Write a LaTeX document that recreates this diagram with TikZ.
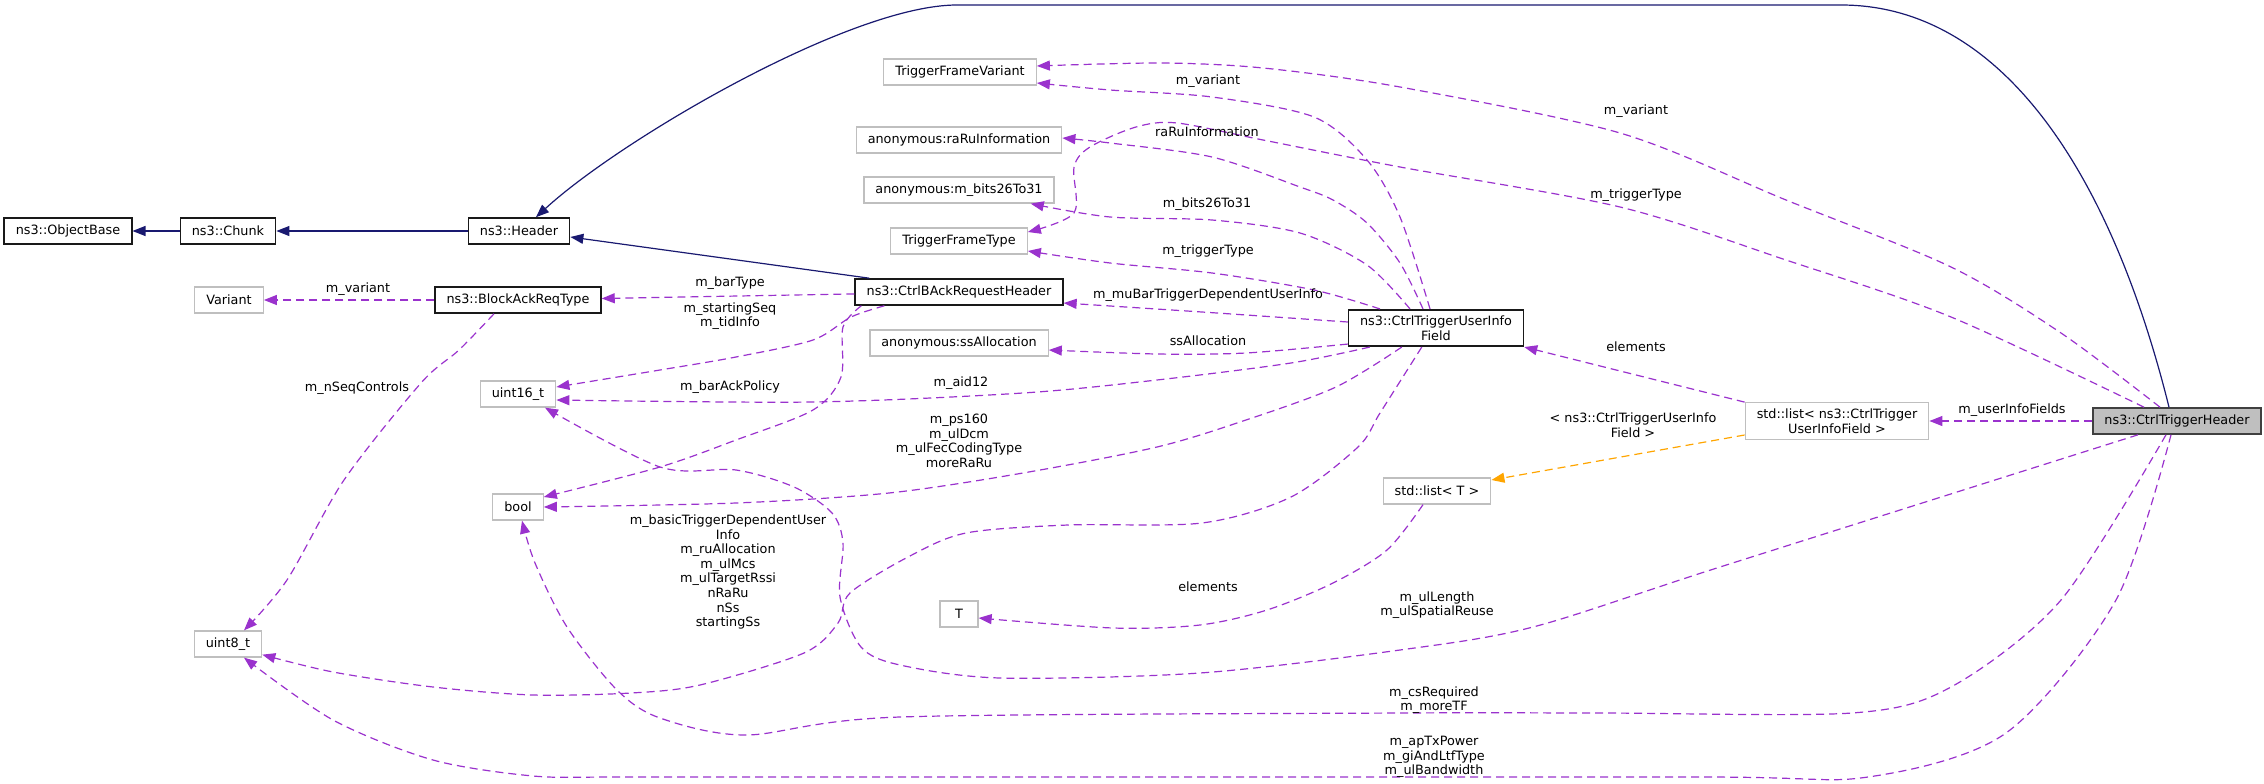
\documentclass[tikz,border=0pt]{standalone}
\usepackage{fontspec}
\setmainfont{DejaVu Sans}
\usetikzlibrary{arrows.meta}
\definecolor{edgepurple}{HTML}{9A32CD}
\definecolor{edgenavy}{HTML}{191970}
\definecolor{edgeorange}{HTML}{FFA500}
\definecolor{boxgray}{HTML}{BFBFBF}
\tikzset{
  box/.style={draw, line width=1.3pt, inner xsep=11.5pt, inner ysep=6pt, minimum height=26pt, align=center, font=\fontsize{12.8}{14.6}\selectfont},
  cls/.style={box, draw=black!90, line width=1.6pt},
  ext/.style={box, draw=boxgray},
  focus/.style={box, draw=black!75, line width=1.6pt, fill=boxgray},
  lbl/.style={align=center, inner sep=0pt, font=\fontsize{12.8}{14.6}\selectfont},
  usage/.style={draw=edgepurple, line width=1.2pt, dash pattern=on 8pt off 5pt, -{Triangle[length=13pt,width=10pt]}},
  inh/.style={draw=edgenavy, line width=1.2pt, -{Triangle[length=13pt,width=10pt]}},
  tpl/.style={draw=edgeorange, line width=1.2pt, dash pattern=on 8pt off 5pt, -{Triangle[length=13pt,width=10pt]}}
}

\begin{document}
\begin{tikzpicture}[x=1pt,y=-1pt]

	\useasboundingbox (0,0) rectangle (2264,784);

	% classes
	\node[cls] (obj) at (68,231) {ns3::ObjectBase};
	\node[cls] (chunk) at (228,231) {ns3::Chunk};
	\node[cls] (hdr) at (519,231) {ns3::Header};
	\node[ext] (variant) at (229,300) {Variant};
	\node[cls] (barT) at (518,300) {ns3::BlockAckReqType};
	\node[cls] (bar) at (959,292) {ns3::CtrlBAckRequestHeader};
	\node[ext] (tfv) at (960,72) {TriggerFrameVariant};
	\node[ext] (rari) at (959,140) {anonymous:raRuInformation};
	\node[ext] (bits) at (959,190) {anonymous:m\_bits26To31};
	\node[ext] (tft) at (959,241) {TriggerFrameType};
	\node[ext] (ssa) at (959,343) {anonymous:ssAllocation};
	\node[ext] (u16) at (518,394) {uint16\_t};
	\node[ext] (bool) at (518,507) {bool};
	\node[ext] (u8) at (228,644) {uint8\_t};
	\node[ext, minimum width=38pt] (T) at (959,614) {T};
	\node[ext] (listT) at (1437,491) {std::list< T >};
	\node[cls] (uif) at (1436,328) {ns3::CtrlTriggerUserInfo\\Field};
	\node[ext] (listU) at (1837,421) {std::list< ns3::CtrlTrigger\\UserInfoField >};
	\node[focus] (cth) at (2177,421) {ns3::CtrlTriggerHeader};

	% inheritance
	\draw[inh] (chunk) -- (obj);
	\draw[inh] (hdr) -- (chunk);
	\draw[inh] ([xshift=15pt]bar.north west) -- ([yshift=-6pt]hdr.east);
	\draw[inh] ([xshift=-8pt]cth.north) .. controls (2110,170) and (2000,5) .. (1841,5) -- (957,5) .. controls (850,5) and (620,140) .. ([xshift=17pt]hdr.north);

	% members of CtrlTriggerHeader
	\draw[usage] (cth) -- (listU);
	\draw[usage] plot[smooth] coordinates {([xshift=-17pt]cth.north) (2061,333) (1951,267) (1786,200) (1620,133) (1400,87) (1263,68) (1161,63) ([yshift=6pt]tfv.east)};
	\draw[usage] plot[smooth] coordinates {([xshift=-33pt]cth.north) (1951,317) (1786,260) (1620,207) (1400,167) (1263,140) (1177,123) (1136,127) (1090,147) (1074,167) (1074,213) ([yshift=9pt]tft.east)};
	\draw[usage] plot[smooth] coordinates {([xshift=-39pt]cth.south) (1720,567) (1533,627) (1400,650) (1200,673) (1000,678) (900,665) (861,647) (840,597) (843,543) (832,513) (794,487) (736,470) (660,467) ([xshift=27pt]u16.south)};
	\draw[usage] plot[smooth] coordinates {([xshift=-11pt]cth.south) (2061,600) (1951,687) (1852,713) (1600,713) (1400,713) (900,717) (746,735) (660,718) (617,690) (567,627) (535,563) ([xshift=4pt]bool.south)};
	\draw[usage] plot[smooth] coordinates {([xshift=-6pt]cth.south) (2116,600) (2006,733) (1868,777) (1700,777) (1000,777) (800,777) (617,777) (533,776) (433,760) (333,720) ([xshift=16pt]u8.south)};

	% members of CtrlTriggerUserInfoField
	\draw[usage] plot[smooth] coordinates {([xshift=-6pt]uif.north) (1400,217) (1367,160) (1314,117) (1212,97) (1110,90) ([yshift=-11pt]tfv.east)};
	\draw[usage] plot[smooth] coordinates {([xshift=-13pt]uif.north) (1400,263) (1367,223) (1333,200) (1300,187) (1212,157) (1110,143) ([yshift=2pt]rari.east)};
	\draw[usage] plot[smooth] coordinates {([xshift=-26pt]uif.north) (1367,265) (1300,233) (1212,220) (1110,217) ([xshift=-24pt]bits.south east)};
	\draw[usage] plot[smooth] coordinates {([xshift=-56pt]uif.north) (1314,290) (1212,273) (1110,263) ([yshift=-10pt]tft.east)};
	\draw[usage] plot[smooth] coordinates {([yshift=6pt]uif.west) (1202,312) ([yshift=-11pt]bar.east)};
	\draw[usage] plot[smooth] coordinates {([yshift=3pt]uif.south west) (1246,353) (1157,354) ([yshift=-7pt]ssa.east)};
	\draw[usage] plot[smooth] coordinates {([xshift=22pt]uif.south west) (1291,363) (1157,380) (1023,393) (813,402) ([yshift=-6pt]u16.east)};
	\draw[usage] plot[smooth] coordinates {([xshift=54pt]uif.south west) (1336,387) (1246,420) (1157,447) (1023,473) (889,493) (736,503) (bool.east)};
	\draw[usage] plot[smooth] coordinates {([xshift=74pt]uif.south west) (1380,413) (1358,447) (1291,497) (1202,523) (1068,525) (966,533) (908,557) (850,593) (838,623) (804,653) (700,685) (631,693) (533,695) (433,687) (333,672) ([yshift=3pt]u8.south east)};

	% members of CtrlBAckRequestHeader
	\draw[usage] (bar) -- (barT);
	\draw[usage] plot[smooth] coordinates {([xshift=30pt]bar.south west) (851,317) (813,340) (736,357) (660,370) ([yshift=7pt]u16.east)};
	\draw[usage] plot[smooth] coordinates {([xshift=7pt]bar.south west) (843,327) (841,377) (813,410) (736,440) (660,467) ([yshift=10pt]bool.east)};

	% members of BlockAckReqType
	\draw[usage] (barT) -- (variant);
	\draw[usage] plot[smooth] coordinates {([xshift=-24pt]barT.south) (459,350) (421,383) (344,480) (287,580) ([xshift=16pt]u8.north)};

	% lists
	\draw[usage] (listU.north west) -- (uif.south east);
	\draw[tpl] ([yshift=-14pt]listU.west) -- ([yshift=11pt]listT.east);
	\draw[usage] plot[smooth] coordinates {([xshift=-14pt]listT.south) (1387,550) (1333,583) (1267,610) (1200,625) (1113,628) ([yshift=-4pt]T.east)};

	% edge labels
	\node[lbl] (l1) at (358,289) {m\_variant};
	\node[lbl] (l2) at (357,388) {m\_nSeqControls};
	\node[lbl] (l3) at (730,283) {m\_barType};
	\node[lbl] (l4) at (730,316) {m\_startingSeq\\m\_tidInfo};
	\node[lbl] (l5) at (730,387) {m\_barAckPolicy};
	\node[lbl] (l6) at (961,383) {m\_aid12};
	\node[lbl] (l7) at (959,441) {m\_ps160\\m\_ulDcm\\m\_ulFecCodingType\\moreRaRu};
	\node[lbl] (l8) at (728,572) {m\_basicTriggerDependentUser\\Info\\m\_ruAllocation\\m\_ulMcs\\m\_ulTargetRssi\\nRaRu\\nSs\\startingSs};
	\node[lbl] (l9) at (1208,341) {ssAllocation};
	\node[lbl] (l10) at (1208,295) {m\_muBarTriggerDependentUserInfo};
	\node[lbl] (l11) at (1208,251) {m\_triggerType};
	\node[lbl] (l12) at (1207,204) {m\_bits26To31};
	\node[lbl] (l13) at (1207,132) {raRuInformation};
	\node[lbl] (l14) at (1208,81) {m\_variant};
	\node[lbl] (l15) at (1208,587) {elements};
	\node[lbl] (l16) at (1636,111) {m\_variant};
	\node[lbl] (l17) at (1636,195) {m\_triggerType};
	\node[lbl] (l18) at (1636,347) {elements};
	\node[lbl] (l19) at (1633,425) {< ns3::CtrlTriggerUserInfo\\Field >};
	\node[lbl] (l20) at (2012,410) {m\_userInfoFields};
	\node[lbl] (l21) at (1437,605) {m\_ulLength\\m\_ulSpatialReuse};
	\node[lbl] (l22) at (1434,700) {m\_csRequired\\m\_moreTF};
	\node[lbl] (l23) at (1434,757) {m\_apTxPower\\m\_giAndLtfType\\m\_ulBandwidth};

\end{tikzpicture}
\end{document}
